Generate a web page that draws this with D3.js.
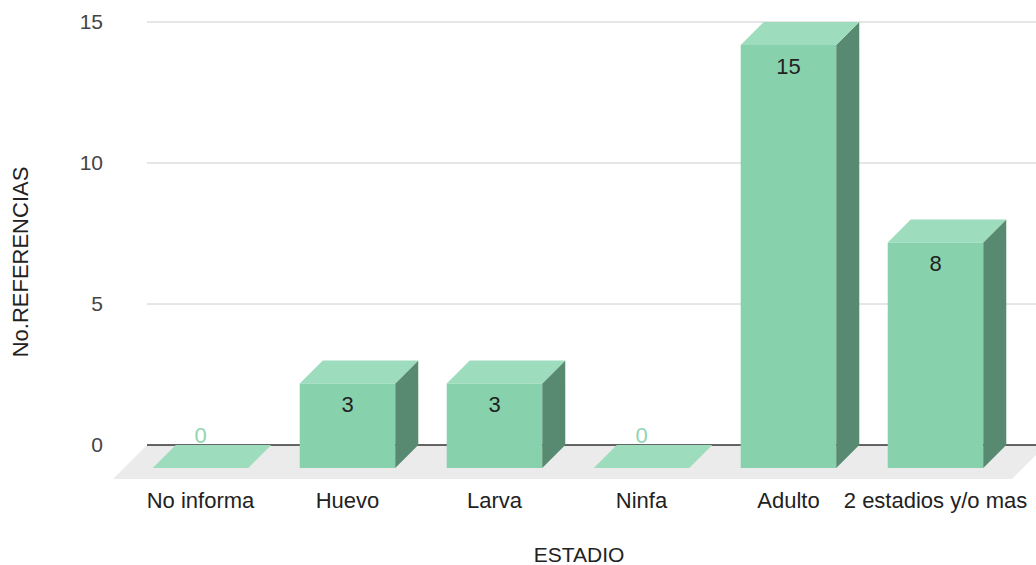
<!DOCTYPE html>
<html>
<head>
<meta charset="utf-8">
<script src="https://cdn.jsdelivr.net/npm/d3@7"></script>
<style>
  body { margin: 0; background: #fff; }
  text { font-family: Arial, "Liberation Sans", sans-serif; }
</style>
</head>
<body>
<svg id="chart" width="1036" height="565"></svg>
<script>
const categories = ['No informa', 'Huevo', 'Larva', 'Ninfa', 'Adulto', '2 estadios y/o mas']
const values = [0, 3, 3, 0, 15, 8]
const yTicks = [0, 5, 10, 15]

const width = 1036
const height = 565
const depth = 23

const svg = d3.select('#chart')

const x = d3.scaleBand()
  .domain(categories)
  .range([150, 1032])
  .paddingInner(0.35)
  .paddingOuter(0.175)

const y = d3.scaleLinear().domain([0, 15]).range([445, 22])

const plotLeft = 147
const plotRight = 1036

// floor
const floorDepth = 34
svg.append('polygon')
  .attr('points', [
    [plotLeft, y(0)], [plotRight + 10, y(0)],
    [plotRight + 10 - floorDepth, y(0) + floorDepth], [plotLeft - floorDepth, y(0) + floorDepth]
  ].join(' '))
  .attr('fill', '#ebebeb')

// gridlines
svg.append('g').selectAll('line')
  .data(yTicks.filter(t => t > 0))
  .join('line')
  .attr('x1', plotLeft).attr('x2', plotRight)
  .attr('y1', d => y(d)).attr('y2', d => y(d))
  .attr('stroke', '#cccccc').attr('stroke-width', 1)

svg.append('line')
  .attr('x1', plotLeft).attr('x2', plotRight)
  .attr('y1', y(0)).attr('y2', y(0))
  .attr('stroke', '#333').attr('stroke-width', 1.3)

// y tick labels
svg.append('g').selectAll('text')
  .data(yTicks)
  .join('text')
  .attr('x', 103)
  .attr('y', d => y(d))
  .attr('dy', '0.35em')
  .attr('text-anchor', 'end')
  .attr('font-size', 21)
  .attr('fill', '#444')
  .text(d => d)

// bars
const bars = svg.append('g').selectAll('g')
  .data(categories.map((c, i) => ({ c, v: values[i] })))
  .join('g')

bars.each(function (d) {
  const g = d3.select(this)
  const x0 = x(d.c)
  const w = x.bandwidth()
  const yTop = y(d.v)
  const yBase = y(0)
  if (d.v > 0) {
    g.append('rect')
      .attr('x', x0 - depth).attr('y', yTop + depth)
      .attr('width', w).attr('height', yBase - yTop)
      .attr('fill', '#87d2ad')
    g.append('polygon')
      .attr('points', [[x0 + w - depth, yTop + depth], [x0 + w, yTop], [x0 + w, yBase], [x0 + w - depth, yBase + depth]].join(' '))
      .attr('fill', '#588a71')
  }
  g.append('polygon')
    .attr('points', [[x0 - depth, yTop + depth], [x0, yTop], [x0 + w, yTop], [x0 + w - depth, yTop + depth]].join(' '))
    .attr('fill', '#9ddcbd')

  const cx = x0 + w / 2 - depth
  g.append('text')
    .attr('x', cx)
    .attr('y', d.v > 0 ? yTop + depth + 21 : yBase - 10)
    .attr('dy', '0.35em')
    .attr('text-anchor', 'middle')
    .attr('font-family', 'Roboto, sans-serif')
    .attr('font-size', 22)
    .attr('font-weight', d.v > 0 ? 400 : 500)
    .attr('fill', d.v > 0 ? '#222' : '#8fd6b3')
    .text(d.v)

  g.append('text')
    .attr('x', cx)
    .attr('y', 500)
    .attr('dy', '0.35em')
    .attr('text-anchor', 'middle')
    .attr('font-size', 22)
    .attr('fill', '#222')
    .text(d.c)
})

// axis titles
svg.append('text')
  .attr('x', 579).attr('y', 555)
  .attr('dy', '0.35em')
  .attr('text-anchor', 'middle')
  .attr('font-size', 21)
  .attr('fill', '#222')
  .text('ESTADIO')

svg.append('text')
  .attr('transform', 'translate(20,262) rotate(-90)')
  .attr('dy', '0.35em')
  .attr('text-anchor', 'middle')
  .attr('font-size', 22)
  .attr('fill', '#222')
  .text('No.REFERENCIAS')
</script>
</body>
</html>
